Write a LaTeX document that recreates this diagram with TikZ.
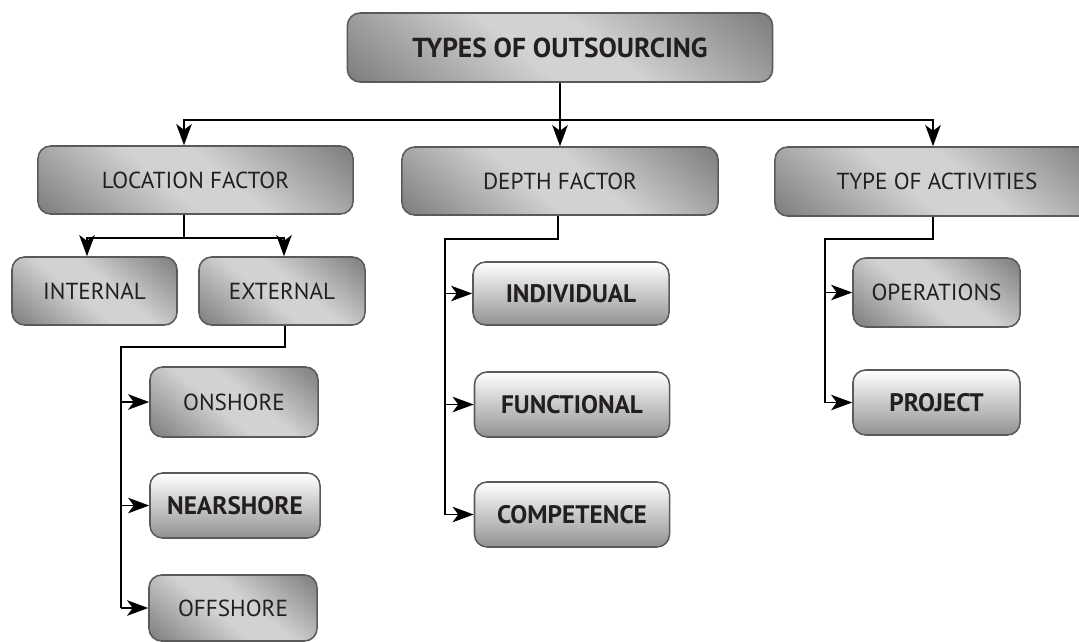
\documentclass[tikz,border=0pt]{standalone}
\usepackage{fontspec}
\setmainfont{PT Sans}
\usetikzlibrary{arrows.meta}
\definecolor{boxdark}{HTML}{747474}
\definecolor{boxlight}{HTML}{D2D2D2}
\definecolor{boxmid}{HTML}{929292}
\definecolor{boxedge}{HTML}{5A5A5A}
\definecolor{txt}{HTML}{231F20}
\pgfdeclareverticalshading{greyshade}{100bp}{color(0bp)=(boxdark); color(12bp)=(boxdark);
  color(44bp)=(boxlight); color(56bp)=(boxlight); color(88bp)=(boxdark); color(100bp)=(boxdark)}

\begin{document}
\begin{tikzpicture}[x=0.025cm, y=-0.025cm,
    greybox/.style={draw=boxedge, line width=1.1pt, rounded corners=9pt,
      shading=greyshade, shading angle=-40,
      text=txt, font=\fontsize{16.5}{18}\selectfont, inner sep=0pt},
    lightbox/.style={draw=boxedge, line width=1.1pt, rounded corners=9pt, shading=axis,
      top color=white, bottom color=boxmid,
      text=txt, font=\fontsize{18}{20}\selectfont\bfseries, inner sep=0pt},
    link/.style={line width=1.3pt},
    arr/.style={link, -{Stealth[length=15pt,width=11pt,inset=4pt]}}]
  \useasboundingbox (0,0) rectangle (1079,641);
  \clip (0,0) rectangle (1079,641);

  % top level
  \node[greybox, font=\fontsize{19.5}{22}\selectfont\bfseries, minimum width=10.625cm, minimum height=1.725cm] (top) at (560,47.5) {TYPES OF OUTSOURCING};
  \node[greybox, minimum width=7.875cm, minimum height=1.7cm] (loc) at (195.5,180) {LOCATION FACTOR};
  \node[greybox, minimum width=7.9cm, minimum height=1.7cm] (depth) at (560,181) {DEPTH FACTOR};
  \node[greybox, minimum width=8.1cm, minimum height=1.725cm] (type) at (937,181.5) {TYPE OF ACTIVITIES};

  % location
  \node[greybox, minimum width=4.125cm, minimum height=1.7cm] (int) at (94.5,291) {INTERNAL};
  \node[greybox, minimum width=4.15cm, minimum height=1.7cm] (ext) at (282,291) {EXTERNAL};
  \node[greybox, minimum width=4.2cm, minimum height=1.75cm] (on) at (234,402) {ONSHORE};
  \node[lightbox, minimum width=4.25cm, minimum height=1.625cm] (near) at (235,505.5) {NEARSHORE};
  \node[greybox, minimum width=4.2cm, minimum height=1.65cm] (off) at (233,608) {OFFSHORE};

  % depth
  \node[lightbox, minimum width=4.9cm, minimum height=1.575cm] (indiv) at (571,293.5) {INDIVIDUAL};
  \node[lightbox, minimum width=4.875cm, minimum height=1.625cm] (func) at (572,404.5) {FUNCTIONAL};
  \node[lightbox, minimum width=4.875cm, minimum height=1.625cm] (comp) at (572,514.5) {COMPETENCE};

  % activities
  \node[greybox, minimum width=4.175cm, minimum height=1.725cm] (oper) at (936.5,292.5) {OPERATIONS};
  \node[lightbox, minimum width=4.175cm, minimum height=1.625cm] (proj) at (936.5,402.5) {PROJECT};

  % junction points
  \coordinate (busL) at (184,120);
  \coordinate (busR) at (933,120);
  \coordinate (ltrunk) at (184,238);
  \coordinate (locL) at (87,238);
  \coordinate (locR) at (284,238);
  \coordinate (etop) at (285,347);
  \coordinate (erail) at (121,347);
  \coordinate (dtop) at (558,239);
  \coordinate (drail) at (445,239);
  \coordinate (ttop) at (933,239);
  \coordinate (trail) at (825,239);

  \draw[arr] (top.south) |- (busL) -- (busL |- loc.north);
  \draw[arr] (top.south) |- (busR) -- (busR |- type.north);
  \draw[arr] (top.south) -- (top.south |- depth.north);

  \draw[arr] (ltrunk |- loc.south) |- (locL) -- (locL |- int.north);
  \draw[arr] (ltrunk |- loc.south) |- (locR) -- (locR |- ext.north);

  \draw[link] (etop |- ext.south) -- (etop) -- (erail) -- (erail |- off.west);
  \draw[arr] (erail |- on.west) -- (on.west);
  \draw[arr] (erail |- near.west) -- (near.west);
  \draw[arr] (erail |- off.west) -- (off.west);

  \draw[link] (dtop |- depth.south) -- (dtop) -- (drail) -- (drail |- comp.west);
  \draw[arr] (drail |- indiv.west) -- (indiv.west);
  \draw[arr] (drail |- func.west) -- (func.west);
  \draw[arr] (drail |- comp.west) -- (comp.west);

  \draw[link] (ttop |- type.south) -- (ttop) -- (trail) -- (trail |- proj.west);
  \draw[arr] (trail |- oper.west) -- (oper.west);
  \draw[arr] (trail |- proj.west) -- (proj.west);
\end{tikzpicture}
\end{document}
